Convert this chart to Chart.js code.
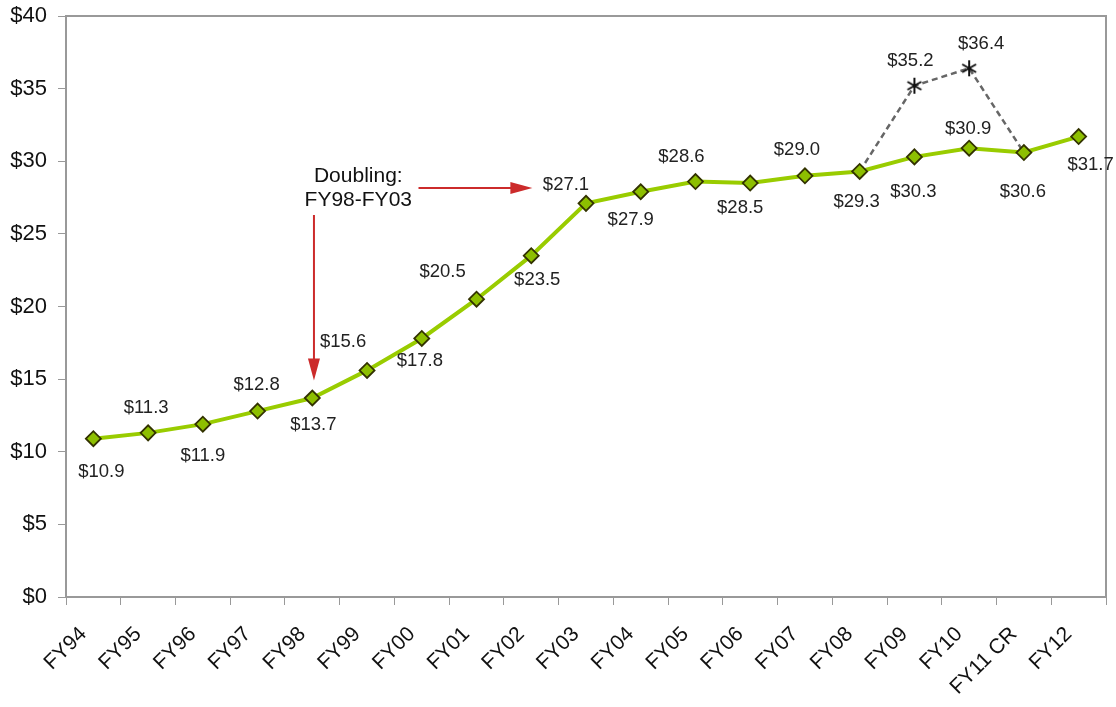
<!DOCTYPE html>
<html>
<head>
<meta charset="utf-8">
<script src="https://cdn.jsdelivr.net/npm/chart.js@4/dist/chart.umd.min.js"></script>
<style>
  html, body { margin: 0; padding: 0; background: #fff; }
  #wrap { width: 1116px; height: 707px; position: relative; }
</style>
</head>
<body>
<div id="wrap"><canvas id="chart"></canvas></div>
<script>
// data ($ billions)
const years = ["FY94","FY95","FY96","FY97","FY98","FY99","FY00","FY01","FY02","FY03",
               "FY04","FY05","FY06","FY07","FY08","FY09","FY10","FY11 CR","FY12"];
const budget = [10.9, 11.3, 11.9, 12.8, 13.7, 15.6, 17.8, 20.5, 23.5, 27.1,
                27.9, 28.6, 28.5, 29.0, 29.3, 30.3, 30.9, 30.6, 31.7];
const withRecovery = [null, null, null, null, null, null, null, null, null, null,
                      null, null, null, null, 29.3, 35.2, 36.4, 30.6, null];
const yTicks = [0, 5, 10, 15, 20, 25, 30, 35, 40];

// where each value label sits relative to its point (px)
const budgetLabelPos = [[8,33],[-2,-25],[0,32],[-1,-26],[1,27],[-24,-29],[-2,22],[-34,-27],[6,24],[-20,-18],
                        [-10,28],[-14,-25],[-10,25],[-8,-26],[-3,30],[-1,35],[-1,-19],[-1,39],[12,28]];
const recoveryLabelPos = {15: [-4,-25], 16: [12,-24]};

const FONT = "'Liberation Sans', Arial, sans-serif";

// six-armed asterisk marker
const asterisk = document.createElement("canvas");
asterisk.width = 18; asterisk.height = 18;
(function(){
  const c = asterisk.getContext("2d");
  c.strokeStyle = "#111";
  c.lineWidth = 2;
  c.lineCap = "butt";
  c.translate(9, 9);
  for(let k = 0; k < 3; k++){
    const a = Math.PI / 2 + k * Math.PI / 3;
    c.beginPath();
    c.moveTo(Math.cos(a) * 8, Math.sin(a) * 8);
    c.lineTo(-Math.cos(a) * 8, -Math.sin(a) * 8);
    c.stroke();
  }
})();

const labelPlugin = {
  id: "labels",
  afterDatasetsDraw(chart){
    const ctx = chart.ctx;
    ctx.save();
    ctx.font = "18.5px " + FONT;
    ctx.fillStyle = "#222";
    ctx.textAlign = "center";
    ctx.textBaseline = "middle";
    chart.getDatasetMeta(0).data.forEach((pt, i) => {
      const o = budgetLabelPos[i];
      ctx.fillText("$" + budget[i].toFixed(1), pt.x + o[0], pt.y + o[1]);
    });
    chart.getDatasetMeta(1).data.forEach((pt, i) => {
      const o = recoveryLabelPos[i];
      if(!o) return;
      ctx.fillText("$" + withRecovery[i].toFixed(1), pt.x + o[0], pt.y + o[1]);
    });

    // "Doubling" annotation
    const xs = chart.scales.x, ys = chart.scales.y;
    ctx.font = "21px " + FONT;
    ctx.fillStyle = "#111";
    ctx.fillText("Doubling:", xs.getPixelForValue(4.84), ys.getPixelForValue(29.0));
    ctx.fillText("FY98-FY03", xs.getPixelForValue(4.84), ys.getPixelForValue(27.35));

    ctx.strokeStyle = "#cc2b2b";
    ctx.fillStyle = "#cc2b2b";
    ctx.lineWidth = 2;
    // horizontal arrow to FY03
    let hy = ys.getPixelForValue(28.15);
    let hx1 = xs.getPixelForValue(5.94), hx2 = xs.getPixelForValue(8.02);
    ctx.beginPath(); ctx.moveTo(hx1, hy); ctx.lineTo(hx2 - 18, hy); ctx.stroke();
    ctx.beginPath(); ctx.moveTo(hx2, hy); ctx.lineTo(hx2 - 22, hy - 6); ctx.lineTo(hx2 - 22, hy + 6); ctx.closePath(); ctx.fill();
    // vertical arrow down to FY98
    let vx = xs.getPixelForValue(4.03);
    let vy1 = ys.getPixelForValue(26.3), vy2 = ys.getPixelForValue(14.9);
    ctx.beginPath(); ctx.moveTo(vx, vy1); ctx.lineTo(vx, vy2 - 18); ctx.stroke();
    ctx.beginPath(); ctx.moveTo(vx, vy2); ctx.lineTo(vx - 6, vy2 - 22); ctx.lineTo(vx + 6, vy2 - 22); ctx.closePath(); ctx.fill();
    ctx.restore();
  },
  beforeDatasetsDraw(chart){
    const a = chart.chartArea, ctx = chart.ctx;
    ctx.save();
    ctx.strokeStyle = "#999";
    ctx.lineWidth = 2;
    ctx.strokeRect(a.left, a.top, a.right - a.left, a.bottom - a.top);
    ctx.restore();
  }
};

new Chart(document.getElementById("chart"), {
  type: "line",
  data: {
    labels: years,
    datasets: [
      {
        data: budget,
        borderColor: "#99cc00",
        borderWidth: 4,
        pointStyle: "rectRot",
        pointRadius: 7.5,
        pointBackgroundColor: "#8dbf00",
        pointBorderColor: "#333300",
        pointBorderWidth: 1.8,
        tension: 0
      },
      {
        data: withRecovery,
        borderColor: "#666",
        borderWidth: 2.5,
        borderDash: [6, 4],
        pointStyle: withRecovery.map((v, i) => (i === 15 || i === 16) ? asterisk : "circle"),
        pointRadius: withRecovery.map((v, i) => (i === 15 || i === 16) ? 8 : 0),
        spanGaps: false,
        tension: 0
      }
    ]
  },
  options: {
    responsive: true,
    maintainAspectRatio: false,
    animation: false,
    layout: { padding: { top: 16, right: 10, left: 0, bottom: 0 } },
    plugins: { legend: { display: false }, tooltip: { enabled: false } },
    scales: {
      x: {
        offset: true,
        afterFit(s){ s.height = 110; s.paddingLeft = 0; s.paddingRight = 0; },
        grid: { offset: true, drawOnChartArea: false, tickLength: 8, color: "#999", lineWidth: 1 },
        border: { display: false },
        ticks: { minRotation: 45, maxRotation: 45, color: "#111", padding: 17, labelOffset: -10,
                 font: { family: FONT, size: 21 } }
      },
      y: {
        min: 0, max: 40,
        afterFit(s){ s.width = 66; s.paddingTop = 0; s.paddingBottom = 0; },
        afterBuildTicks(s){ s.ticks = yTicks.map(v => ({ value: v })); },
        grid: { drawOnChartArea: false, tickLength: 8, color: "#999" },
        border: { display: false },
        ticks: { color: "#111", padding: 11, font: { family: FONT, size: 22 },
                 callback: v => "$" + v }
      }
    }
  },
  plugins: [labelPlugin]
});
</script>
</body>
</html>
